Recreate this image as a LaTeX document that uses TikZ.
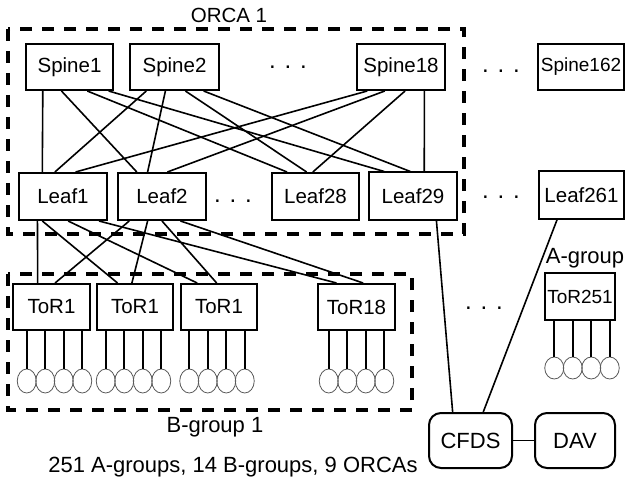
\documentclass[tikz,border=0pt]{standalone}
\usepackage{fontspec}
\setmainfont{Liberation Sans}
\usetikzlibrary{calc,shapes.geometric}
\newcommand\linkbn[4]{\draw[link] ($(#1.south west)!#2!(#1.south east)$) -- ($(#3.north west)!#4!(#3.north east)$);}
\begin{document}
\begin{tikzpicture}[x=1pt,y=-1pt,
  box/.style={draw, line width=2pt, inner sep=0pt, font=\fontsize{20.5}{24}\selectfont},
  sbox/.style={box, font=\fontsize{19}{23}\selectfont},
  rbox/.style={box, rounded corners=12pt, font=\fontsize{22}{26}\selectfont},
  link/.style={line width=1.6pt},
  grp/.style={line width=3.5pt, dash pattern=on 12pt off 10pt},
  srv/.style={ellipse, draw=black!65, line width=0.8pt, inner sep=0pt, minimum width=19pt},
  lbl/.style={anchor=base, inner sep=0pt, font=\fontsize{22}{26}\selectfont},
  dots/.style={anchor=base, inner sep=0pt, font=\fontsize{24}{28}\selectfont}
]
\useasboundingbox (0,0) rectangle (626,481);

% group boxes
\draw[grp] (8,29) rectangle (464,234);
\draw[grp] (8,274) rectangle (412,410);
\node[lbl, font=\fontsize{20.5}{24}\selectfont] (orca) at (229,23) {ORCA 1};
\node[lbl] (bgrp) at (215,432) {B-group 1};
\node[lbl] (agrp) at (585,263) {A-group};
\node[lbl] (summary) at (233,472) {251 A-groups, 14 B-groups, 9 ORCAs};

% spines
\node[box, minimum width=87pt, minimum height=46pt] (s1) at (69.5,67) {Spine1};
\node[box, minimum width=89pt, minimum height=46pt] (s2) at (174.5,67) {Spine2};
\node[box, minimum width=88pt, minimum height=46pt] (s18) at (401,67) {Spine18};
\node[sbox, minimum width=86pt, minimum height=46pt] (s162) at (581,67) {Spine162};
\node[dots] (d1) at (288,69) {. . .};
\node[dots] (d2) at (501,73) {. . .};

% leaves
\node[box, minimum width=88pt, minimum height=47pt] (l1) at (63,196.5) {Leaf1};
\node[box, minimum width=88pt, minimum height=47pt] (l2) at (162,196.5) {Leaf2};
\node[box, minimum width=87pt, minimum height=47pt] (l28) at (315.5,196.5) {Leaf28};
\node[box, minimum width=88pt, minimum height=47pt] (l29) at (413,196) {Leaf29};
\node[box, minimum width=85pt, minimum height=47pt] (l261) at (581.5,195) {Leaf261};
\node[dots] (d3) at (233,203) {. . .};
\node[dots] (d4) at (501,198) {. . .};

% ToRs
\node[box, minimum width=77pt, minimum height=46pt] (ta) at (51.5,307) {ToR1};
\node[box, minimum width=76pt, minimum height=46pt] (tb) at (135,307) {ToR1};
\node[box, minimum width=76pt, minimum height=46pt] (tc) at (219,307) {ToR1};
\node[box, minimum width=77pt, minimum height=46pt] (t18) at (356.5,307) {ToR18};
\node[sbox, minimum width=70pt, minimum height=47pt] (t251) at (580,296.5) {ToR251};
\node[dots] (d5) at (484,309) {. . .};

% CFDS and DAV
\node[rbox, minimum width=83pt, minimum height=55pt] (cfds) at (470.5,440.5) {CFDS};
\node[rbox, minimum width=80pt, minimum height=55pt] (dav) at (575,440.5) {DAV};
\draw[link] (cfds.east) -- (dav.west);

% spine-leaf links
\linkbn{s1}{0.2}{l1}{0.27}
\linkbn{s1}{0.41}{l2}{0.22}
\linkbn{s1}{0.7}{l28}{0.18}
\linkbn{s1}{0.94}{l29}{0.18}
\linkbn{s2}{0.19}{l1}{0.41}
\linkbn{s2}{0.40}{l2}{0.34}
\linkbn{s2}{0.62}{l28}{0.40}
\linkbn{s2}{0.82}{l29}{0.47}
\linkbn{s18}{0.125}{l1}{0.64}
\linkbn{s18}{0.32}{l2}{0.56}
\linkbn{s18}{0.545}{l28}{0.47}
\linkbn{s18}{0.76}{l29}{0.625}

% leaf-ToR links
\linkbn{l1}{0.216}{ta}{0.325}
\linkbn{l1}{0.27}{tb}{0.276}
\linkbn{l1}{0.557}{tc}{0.22}
\linkbn{l1}{0.9}{t18}{0.247}
\linkbn{l2}{0.136}{ta}{0.545}
\linkbn{l2}{0.34}{tb}{0.46}
\linkbn{l2}{0.5}{tc}{0.47}
\linkbn{l2}{0.705}{t18}{0.584}

% leaf-CFDS links
\linkbn{l29}{0.76}{cfds}{0.29}
\linkbn{l261}{0.22}{cfds}{0.65}

% servers
\foreach \t/\sh/\dy/\eh in {ta/3/50/24, tb/-1.5/50/24, tc/-2/50/24, t18/0/50/24, t251/2/47/22} {
  \foreach \i/\dx in {1/-27.75,2/-9.25,3/9.25,4/27.75} {
    \node[srv, minimum height=\eh pt] (\t-\i) at ($(\t.south)+(\dx+\sh,\dy)$) {};
    \draw[link] (\t-\i.north) -- (\t-\i.north |- \t.south);
  }
}
\end{tikzpicture}
\end{document}
